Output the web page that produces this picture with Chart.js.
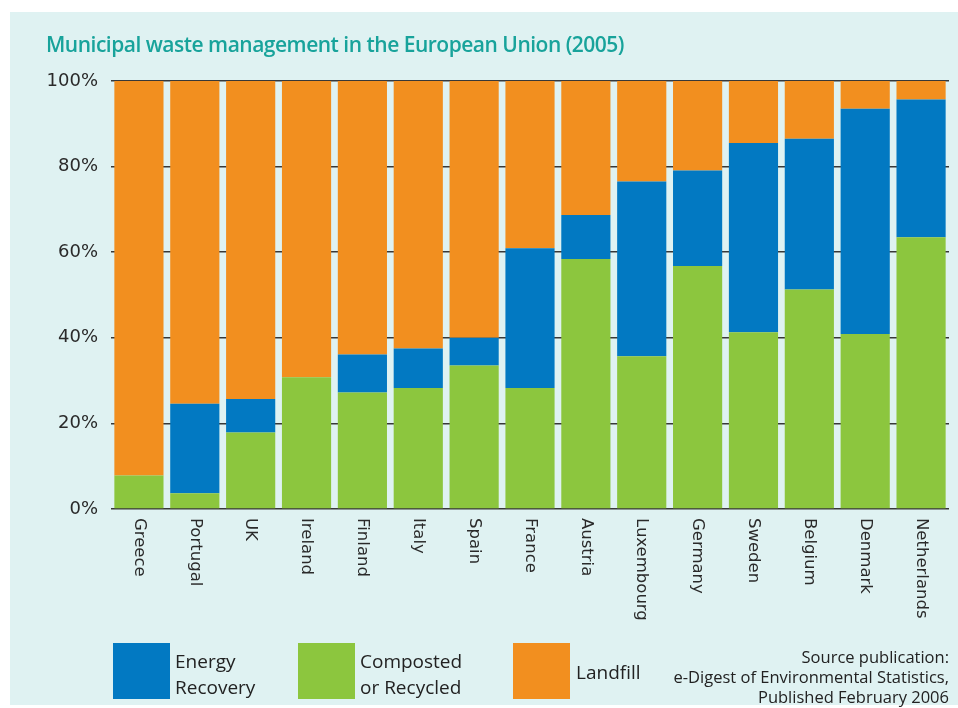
<!DOCTYPE html>
<html>
<head>
<meta charset="utf-8">
<script src="https://cdn.jsdelivr.net/npm/chart.js@4.4.1/dist/chart.umd.min.js"></script>
<style>
  html, body { margin: 0; padding: 0; background: #ffffff; }
  #wrap { position: relative; width: 958px; height: 708px; overflow: hidden; }
  #panel { position: absolute; left: 10px; top: 12px; width: 948px; height: 693px; background: #dff2f2; }
  #c { position: absolute; left: 0; top: 0; }
  .t { position: absolute; white-space: nowrap; }
  #title { left: 46px; top: 30px; font-family: "Open Sans", sans-serif; font-weight: 600; font-size: 21px; color: #18a39b; letter-spacing: -0.5px; }
  .box { position: absolute; width: 57px; height: 56px; top: 643px; }
  .lg { font-family: "Open Sans", sans-serif; font-size: 19px; color: #222; line-height: 26px; }
  #src { right: 9px; top: 647px; text-align: right; font-family: "Open Sans", sans-serif; font-size: 16.5px; line-height: 20px; color: #222; }
</style>
</head>
<body>
<div id="wrap">
  <div id="panel"></div>
  <canvas id="c" width="958" height="708"></canvas>
  <div id="title" class="t">Municipal waste management in the European Union (2005)</div>
  <div class="box" style="left:113px;background:#0279c2"></div>
  <div class="t lg" style="left:175px;top:648px">Energy<br>Recovery</div>
  <div class="box" style="left:298px;background:#8cc63e"></div>
  <div class="t lg" style="left:360px;top:648px">Composted<br>or Recycled</div>
  <div class="box" style="left:513px;background:#f28f1f"></div>
  <div class="t lg" style="left:576px;top:659px">Landfill</div>
  <div id="src" class="t">Source publication:<br>e-Digest of Environmental Statistics,<br>Published February 2006</div>
</div>
<script>
const categories = ["Greece","Portugal","UK","Ireland","Finland","Italy","Spain","France","Austria","Luxembourg","Germany","Sweden","Belgium","Denmark","Netherlands"];
const composted = [7.8, 3.7, 17.9, 30.8, 27.2, 28.3, 33.5, 28.3, 58.4, 35.7, 56.8, 41.3, 51.3, 40.9, 63.5];
const energy    = [0, 20.9, 7.8, 0, 8.9, 9.2, 6.5, 32.6, 10.3, 40.8, 22.3, 44.2, 35.2, 52.6, 32.2];
const landfill  = [92.2, 75.4, 74.3, 69.2, 63.9, 62.5, 60.0, 39.1, 31.3, 23.5, 20.9, 14.5, 13.5, 6.5, 4.3];
const yTicks = [0, 20, 40, 60, 80, 100];

const xLabelPlugin = {
  id: 'xLabels',
  afterDraw(chart) {
    const ctx = chart.ctx;
    const xs = chart.scales.x;
    const top = chart.chartArea.bottom + 9;
    ctx.save();
    ctx.font = '16.5px "DejaVu Sans", sans-serif';
    ctx.fillStyle = '#2a2a2a';
    ctx.textAlign = 'left';
    ctx.textBaseline = 'middle';
    categories.forEach((lab, i) => {
      const x = xs.getPixelForValue(i);
      ctx.save();
      ctx.translate(x, top);
      ctx.rotate(Math.PI / 2);
      ctx.fillText(lab, 0, 0);
      ctx.restore();
    });
    ctx.restore();
  }
};

new Chart(document.getElementById('c'), {
  type: 'bar',
  data: {
    labels: categories,
    datasets: [
      { label: 'Composted or Recycled', data: composted, backgroundColor: '#8cc63e' },
      { label: 'Energy Recovery', data: energy, backgroundColor: '#0279c2' },
      { label: 'Landfill', data: landfill, backgroundColor: '#f28f1f' }
    ]
  },
  options: {
    responsive: false,
    animation: false,
    events: [],
    layout: { padding: { left: 45, right: 9, top: 81, bottom: 0 } },
    datasets: { bar: { categoryPercentage: 1.0, barPercentage: 0.88, borderWidth: 0 } },
    plugins: { legend: { display: false }, title: { display: false }, tooltip: { enabled: false } },
    scales: {
      x: {
        stacked: true,
        grid: { display: false },
        border: { display: false },
        ticks: { display: false },
        afterFit(scale) { scale.height = 199; }
      },
      y: {
        stacked: true,
        min: 0, max: 100,
        z: 1,
        afterFit(scale) { scale.width = 66; },
        afterBuildTicks(scale) { scale.ticks = yTicks.map(v => ({ value: v })); },
        grid: { color: '#383838', lineWidth: 1.6, drawTicks: false },
        border: { display: false },
        ticks: {
          padding: 13,
          color: '#2a2a2a',
          font: { family: '"DejaVu Sans", sans-serif', size: 18 },
          callback: v => v + '%'
        }
      }
    }
  },
  plugins: [xLabelPlugin]
});
</script>
</body>
</html>
